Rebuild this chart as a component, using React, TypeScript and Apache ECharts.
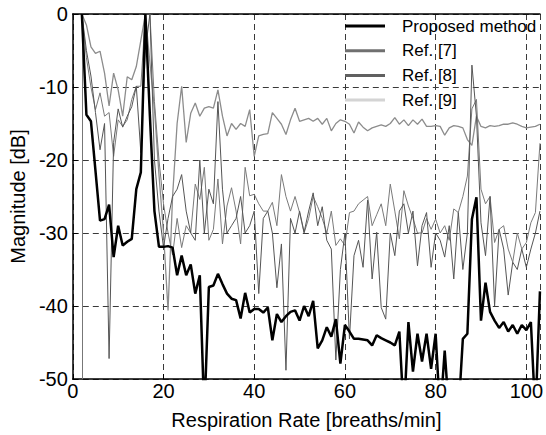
import React, { useEffect, useRef } from "react";
import * as echarts from "echarts";

const rates = [
  2, 3, 4, 5, 6, 7, 8, 9, 10, 11, 12, 13, 14, 15, 16, 17, 18, 19, 20, 21,
  22, 23, 24, 25, 26, 27, 28, 29, 30, 31, 32, 33, 34, 35, 36, 37, 38, 39, 40, 41,
  42, 43, 44, 45, 46, 47, 48, 49, 50, 51, 52, 53, 54, 55, 56, 57, 58, 59, 60, 61,
  62, 63, 64, 65, 66, 67, 68, 69, 70, 71, 72, 73, 74, 75, 76, 77, 78, 79, 80, 81,
  82, 83, 84, 85, 86, 87, 88, 89, 90, 91, 92, 93, 94, 95, 96, 97, 98, 99, 100, 101,
  102, 103,
];

const proposed = [
  0, -13.8, -14.7, -21.5, -28.3, -28.1, -26.1, -33.3, -29, -31.7, -31.2, -30.8, -24, -21.7, 0, -14, -27, -31.9, -31.9, -31.8,
  -32, -35.8, -33.1, -35.8, -34.3, -38.3, -35.8, -55, -37.4, -37.2, -35.6, -37, -38.3, -39, -39.2, -41.7, -38.2, -40.9, -40.4, -40.4,
  -40.9, -40.2, -44.7, -41.1, -42.2, -41.4, -40.8, -40.6, -42, -40, -41.4, -39.3, -45.8, -44.7, -42.9, -44.2, -41.8, -47.9, -42.6, -43.5,
  -44.5, -44.5, -44.6, -44.7, -45.4, -44, -44.4, -44.7, -45, -45.4, -43.5, -55, -42.2, -49, -43.8, -47.6, -43.8, -48.6, -43.8, -55,
  -46.1, -55, -55, -55, -44.5, -43.8, -28.1, -25.1, -42, -36.8, -40.8, -42, -43, -42.2, -43.5, -42.6, -43.8, -42.6, -43.3, -42.2,
  -55, -38,
];

const ref7 = [
  0, -6, -10, -13.1, -10.8, -14, -13.5, -19.5, -14.5, -15.4, -14.5, -11.7, -9.9, -9.9, 0, 0, -12, -20, -26, -30,
  -33, -28, -32, -29, -30, -23.3, -25.4, -21, -31, -29.5, -22.6, -31.5, -26.3, -23.8, -27, -31.5, -21, -24.9, -24.7, -26,
  -27, -27, -25.8, -29, -22, -25, -27, -25, -27.2, -30, -28, -25, -26.4, -28, -30, -27, -31.7, -30.8, -31.7, -27.2,
  -27, -26, -25.5, -25, -29, -27.5, -26, -29, -23.3, -27, -30.8, -24.2, -26.3, -28, -30, -30, -28, -29.5, -28.1, -30,
  -29, -31, -26.7, -27.2, -25, -22.2, -13, -11.7, -24, -26, -25, -31.3, -29.5, -29, -32.2, -34, -30, -32.2, -31.3, -28.6,
  -27.2, -17.7,
];

const ref8 = [
  0, -5, -8.5, -13.5, -18.6, -15, -47.2, -17.6, -13, -15.5, -14, -12.7, -9.9, -19, -5, 0, -20, -27, -32, -28,
  -25, -24, -22, -27, -30, -31, -20, -30, -24, -26, -12, -24, -30, -29, -28, -25, -30, -29, -27, -38.3,
  -28, -27, -30, -37.5, -31.5, -48.8, -28, -30, -27, -29.9, -27, -24.5, -29, -26.4, -31, -32.2, -47.4, -35, -30, -44.5,
  -33.1, -31, -34.7, -25.5, -36.3, -29.9, -40.2, -41.8, -30, -33.1, -27, -26, -30, -27, -34.5, -29, -27.2, -34.7, -30, -31,
  -33.3, -29, -36.3, -27.2, -35, -30, -7, -14, -28.6, -33.1, -25, -40, -29.5, -32.2, -38.5, -34, -35, -32.2, -34.7, -32.2,
  -30, -27,
];

const ref9 = [
  0, -1.5, -4.5, -5.4, -5.1, -8.1, -12.6, -8.1, -10.4, -14, -8.6, -9, -7.2, -3.6, 0, -6.7, -13, -22, -30, -40.6,
  -25, -15, -9.9, -17.6, -13.6, -12.2, -14, -12.9, -12.7, -12.9, -10.4, -14, -16.7, -15, -15.8, -15, -15.4, -13.1, -19.5, -16.7,
  -16.5, -16.4, -13.5, -14.3, -15.1, -16.5, -14.5, -12.9, -14.7, -14.5, -14.3, -14.7, -14.3, -15.1, -14.3, -16, -15, -14.5, -14.7, -15.1,
  -16.3, -14.8, -15.5, -16, -15.6, -15.4, -15.2, -15.4, -15, -14.2, -15.1, -14.5, -15.3, -14.5, -15.1, -14.4, -15.4, -15.4, -15.3, -15.4,
  -16.6, -15.6, -15.3, -15.4, -15.6, -17.2, -18, -14, -15.4, -15.6, -15.3, -15.4, -15.3, -15.1, -15.1, -14.9, -15.1, -15.4, -15.6, -15.5,
  -15.4, -15.1,
];

const seriesNames = ["Proposed method", "Ref. [7]", "Ref. [8]", "Ref. [9]"];
const startRate = 2;
const xTicks = { min: 0, max: 103, interval: 20 };
const yTicks = { min: -50, max: 0, interval: 10 };

const FONT = "Liberation Sans, Arial, sans-serif";

function pairs(ys: number[]) {
  return rates.map((x, i) => [x, ys[i]]);
}

export default function App() {
  const ref = useRef<HTMLDivElement>(null);
  useEffect(() => {
    if (!ref.current) return;
    const chart = echarts.init(ref.current, undefined, { renderer: "svg" });
    const dash = { color: "#3a3a3a", width: 1, type: [6, 4] as any };
    chart.setOption({
      animation: false,
      backgroundColor: "#ffffff",
      textStyle: { fontFamily: FONT },
      grid: { left: 72, top: 14, right: 4, bottom: 54, containLabel: false },
      legend: {
        orient: "vertical",
        left: 345,
        top: 17,
        padding: 0,
        itemWidth: 40,
        itemHeight: 3,
        itemGap: 6.7,
        icon: "rect",
        selectedMode: false,
        textStyle: { fontFamily: FONT, fontSize: 17, lineHeight: 18, color: "#000", padding: [0, 0, 0, 12] },
        data: [
          { name: seriesNames[0], itemStyle: { color: "#000" } },
          { name: seriesNames[1], itemStyle: { color: "#707070" } },
          { name: seriesNames[2], itemStyle: { color: "#606060" } },
          { name: seriesNames[3], itemStyle: { color: "#d4d4d4" } },
        ],
      },
      xAxis: [
        {
          type: "value",
          ...xTicks,
          name: "Respiration Rate [breaths/min]",
          nameLocation: "middle",
          nameGap: 31,
          nameTextStyle: { fontFamily: FONT, fontSize: 20, color: "#000" },
          axisLine: { show: true, onZero: false, lineStyle: { color: "#000", width: 1.5 } },
          axisTick: { show: true, inside: true, length: 5, lineStyle: { color: "#000" } },
          axisLabel: { fontFamily: FONT, fontSize: 20, color: "#000", margin: 2 },
          splitLine: { show: true, lineStyle: dash },
        },
        {
          type: "value",
          ...xTicks,
          position: "top",
          axisLine: { show: true, onZero: false, lineStyle: { color: "#000", width: 1.5 } },
          axisTick: { show: false },
          axisLabel: { show: false },
          splitLine: { show: false },
        },
      ],
      yAxis: {
        type: "value",
        ...yTicks,
        name: "Magnitude [dB]",
        nameLocation: "middle",
        nameGap: 42,
        nameTextStyle: { fontFamily: FONT, fontSize: 20, color: "#000" },
        axisLine: { show: true, onZero: false, lineStyle: { color: "#000", width: 1.5 } },
        axisTick: { show: true, inside: true, length: 5, lineStyle: { color: "#000" } },
        axisLabel: { fontFamily: FONT, fontSize: 20, color: "#000", margin: 5 },
        splitLine: { show: true, lineStyle: dash },
      },
      series: [
        {
          name: seriesNames[3],
          type: "line",
          data: pairs(ref9),
          symbol: "none",
          lineStyle: { color: "#8c8c8c", width: 1.3 },
          itemStyle: { color: "#d4d4d4" },
          z: 2,
        },
        {
          name: seriesNames[1],
          type: "line",
          data: pairs(ref7),
          symbol: "none",
          lineStyle: { color: "#7a7a7a", width: 1 },
          itemStyle: { color: "#707070" },
          z: 3,
          markLine: {
            silent: true,
            symbol: ["none", "none"],
            label: { show: false },
            lineStyle: { color: "#777", width: 1, type: "solid" },
            data: [{ xAxis: startRate }],
          },
        },
        {
          name: seriesNames[2],
          type: "line",
          data: pairs(ref8),
          symbol: "none",
          lineStyle: { color: "#555555", width: 1 },
          itemStyle: { color: "#606060" },
          z: 4,
        },
        {
          name: seriesNames[0],
          type: "line",
          data: pairs(proposed),
          symbol: "none",
          lineStyle: { color: "#000", width: 2.5 },
          itemStyle: { color: "#000" },
          z: 5,
        },
      ],
    });
    return () => chart.dispose();
  }, []);
  return <div ref={ref} style={{ width: 546, height: 435, position: "fixed", left: 0, top: 0 }} />;
}
